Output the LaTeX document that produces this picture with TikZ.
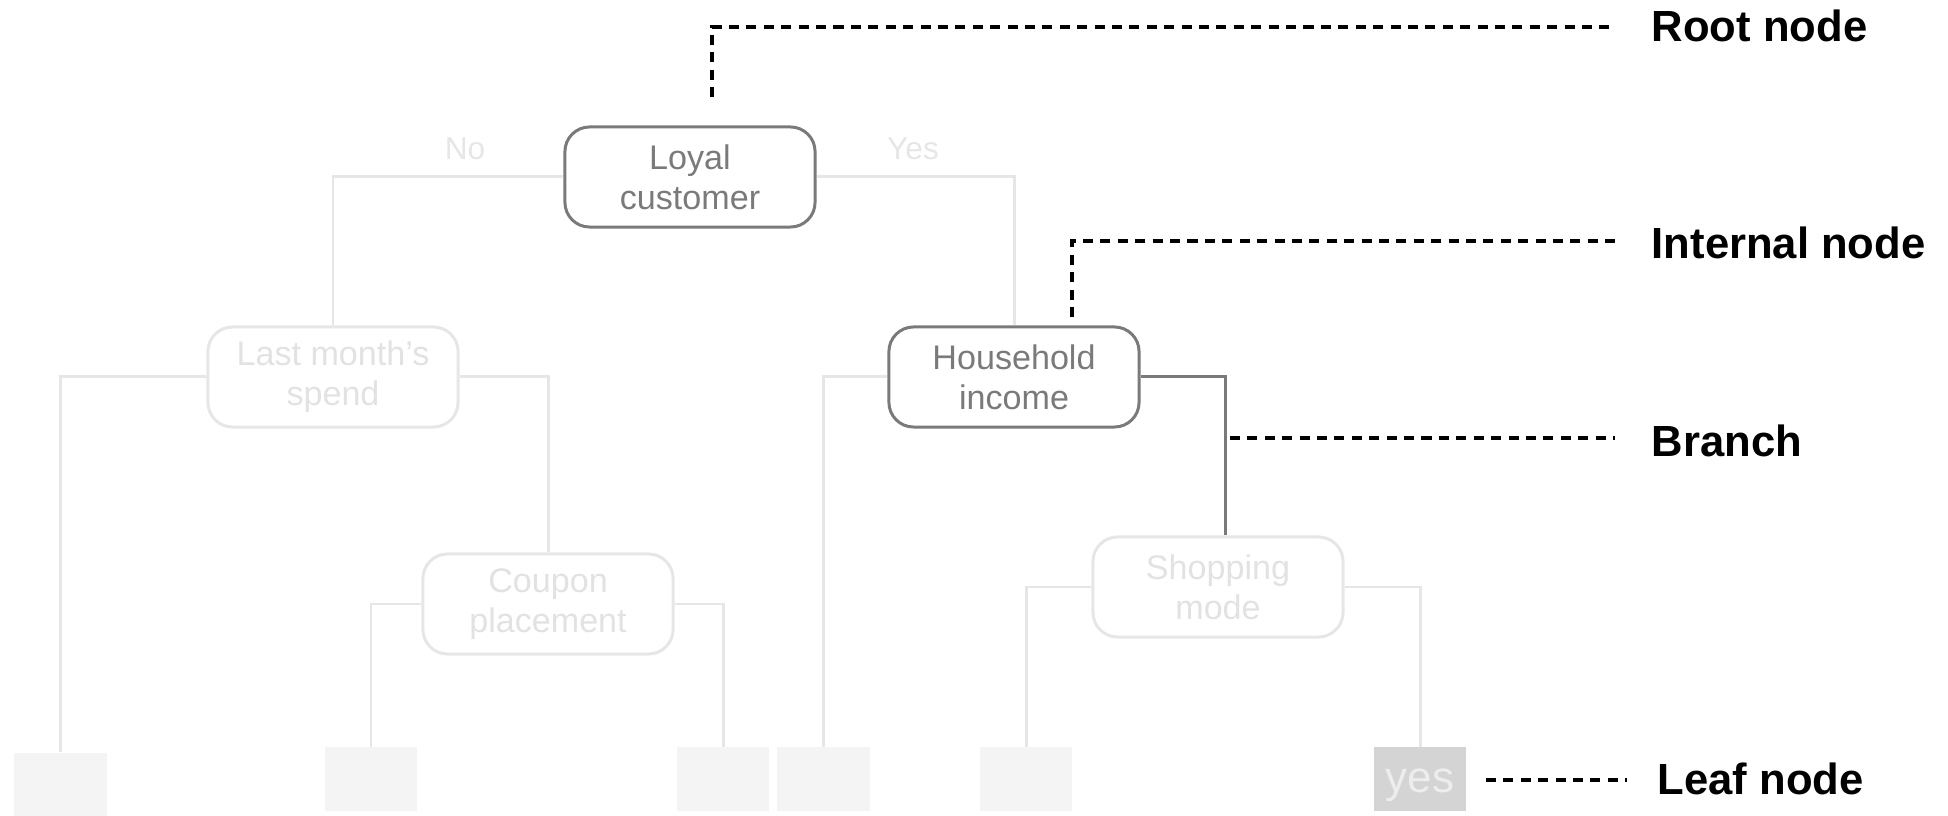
\documentclass[tikz,border=0pt]{standalone}
\usepackage{fontspec}
\setmainfont{Liberation Sans}
\definecolor{activegray}{HTML}{7A7A7A}
\definecolor{fadedgray}{HTML}{E6E6E6}
\definecolor{fadedtext}{HTML}{E2E2E2}
\definecolor{leaffill}{HTML}{F4F4F4}
\definecolor{hitfill}{HTML}{D4D4D4}
\definecolor{hittext}{HTML}{EDEDED}
\begin{document}
\begin{tikzpicture}[x=0.01cm, y=-0.01cm,
  decision/.style={rounded corners=7pt, line width=0.85pt, minimum width=2.5cm,
    minimum height=1cm, align=center, inner sep=0pt,
    font=\fontsize{9.7}{11.4}\selectfont},
  active/.style={decision, draw=activegray, text=activegray},
  faded/.style={decision, draw=fadedgray, text=fadedtext},
  leafbox/.style={fill=leaffill, minimum width=0.92cm, minimum height=0.63cm, inner sep=0pt},
  link/.style={line width=0.85pt, draw=fadedgray},
  activelink/.style={line width=0.85pt, draw=activegray},
  answer/.style={text=fadedgray, font=\fontsize{9}{11}\selectfont},
  callout/.style={draw=black, line width=1.1pt, dash pattern=on 2.85pt off 2.1pt},
  tag/.style={anchor=base west, inner sep=0pt, font=\bfseries\fontsize{12.4}{14}\selectfont}]

\useasboundingbox (0,0) rectangle (1948,816);

% decision nodes
\node[active] (loyal) at (690,177) {Loyal\\customer};
\node[faded]  (spend) at (333,377) {Last month’s\\spend};
\node[active] (income) at (1014,377) {Household\\income};
\node[faded]  (coupon) at (548,604) {Coupon\\placement};
\node[faded]  (mode) at (1218,587) {Shopping\\mode};

% leaves
\node[leafbox] (leafA) at (60.5,784.5) {};
\node[leafbox] (leafB) at (371,779) {};
\node[leafbox] (leafC) at (723,779) {};
\node[leafbox] (leafD) at (823.5,779) {};
\node[leafbox] (leafE) at (1026,779) {};
\node[leafbox, fill=hitfill, text=hittext, font=\fontsize{12.5}{14}\selectfont] (leafF) at (1420,779) {\raisebox{-3.8pt}[0pt][0pt]{yes}};

% branches
\draw[link] (loyal.west) -| (spend.north);
\draw[link] (loyal.east) -| (income.north);
\draw[link] (spend.west) -| (leafA.north);
\draw[link] (spend.east) -| (coupon.north);
\draw[link] (coupon.west) -| (leafB.north);
\draw[link] (coupon.east) -| (leafC.north);
\draw[link] (income.west) -| (leafD.north);
\draw[activelink] (income.east) -| ([xshift=2pt]mode.north);
\draw[link] (mode.west) -| (leafE.north);
\draw[link] (mode.east) -| (leafF.north);

% answers on the root split
\node[answer] (no) at (465,149) {No};
\node[answer] (yes) at (913,149) {Yes};

% callouts
\coordinate (rootfoot) at (712,97);
\coordinate (rootbend) at (712,27);
\coordinate (rootend) at (1615,27);
\coordinate (intfoot) at (1072,317);
\coordinate (intbend) at (1072,241);
\coordinate (intend) at (1615,241);
\coordinate (brstart) at (1230,438);
\coordinate (brend) at (1615,438);
\coordinate (lfstart) at (1486,780);
\coordinate (lfend) at (1627,780);

\draw[callout] (rootfoot) -- (rootbend) -- (rootend);
\draw[callout] (intfoot) -- (intbend) -- (intend);
\draw[callout] (brstart) -- (brend);
\draw[callout] (lfstart) -- (lfend);

\node[tag] (troot) at (1651,42) {Root node};
\node[tag] (tint) at (1651,259) {Internal node};
\node[tag] (tbr) at (1651,457) {Branch};
\node[tag] (tleaf) at (1657,795) {Leaf node};
\end{tikzpicture}
\end{document}
